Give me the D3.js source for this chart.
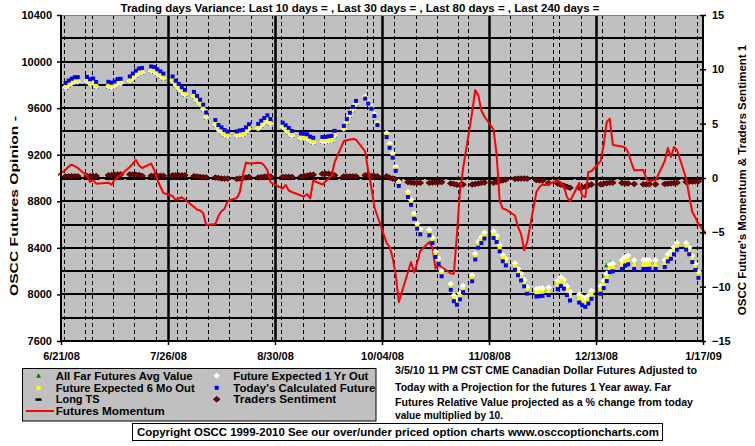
<!DOCTYPE html>
<html><head><meta charset="utf-8">
<script src="https://cdn.jsdelivr.net/npm/d3@7"></script>
<style>
body{margin:0;background:#fff}
svg{display:block}
text{font-family:"Liberation Sans",Arial,sans-serif;font-weight:bold;fill:#000}
</style>
</head><body>
<svg id="chart" width="755" height="446"></svg>
<script>
// ---------- DATA ----------
const weekStarts = ["2008-06-23","2008-06-30","2008-07-07","2008-07-14","2008-07-21","2008-07-28",
"2008-08-04","2008-08-11","2008-08-18","2008-08-25","2008-09-01","2008-09-08","2008-09-15","2008-09-22",
"2008-09-29","2008-10-06","2008-10-13","2008-10-20","2008-10-27","2008-11-03","2008-11-10","2008-11-17",
"2008-11-24","2008-12-01","2008-12-08","2008-12-15","2008-12-22","2008-12-29","2009-01-05","2009-01-12"];

// Today's Calculated Future (left axis), Mon..Fri per week
const todaysFuture = [
[9816,9836,9853,9865,9866],[9868,9848,9855,9825,null],[9826,9818,9829,9850,9852],[9872,9897,9922,9940,9945],
[9958,9953,9934,9916,9896],[9872,9836,9808,9780,9757],[9740,9705,9672,9630,9562],[9498,9455,9435,9412,9398],
[9400,9408,9412,9435,9462],[9465,9492,9515,9538,9506],[null,9475,9453,9430,9404],[9382,9380,9375,9355,9345],
[9352,9352,9358,9362,9405],[9447,9505,9560,9610,9662],[9682,9640,9596,9533,9455],[9352,9260,9175,9062,8932],
[8837,8770,8650,8565,8517],[8508,8442,8322,8264,8156],[8040,7942,7912,7958,8020],[8113,8300,8402,8442,8480],
[8485,8450,8370,8285,8250],[8212,8165,8121,8070,8007],[7982,7985,7988,null,7995],[8045,8072,8050,7995,7948],
[7930,7907,7893,7922,7962],[8006,8055,8115,8192,8198],[8218,8246,8258,null,8218],[8218,8218,8220,null,8218],
[8236,8284,8306,8345,8384],[8385,8345,8278,8210,8143]];

// Future Expected 6 Mo Out
const sixMonth = [
[9791,9811,9828,9840,9841],[9843,9823,9830,9800,null],[9801,9793,9804,9825,9827],[9847,9872,9897,9915,9920],
[9933,9928,9909,9891,9871],[9847,9811,9783,9755,9732],[9715,9680,9647,9605,9537],[9473,9430,9410,9387,9373],
[9375,9383,9387,9410,9437],[9440,9467,9490,9513,9481],[null,9450,9428,9405,9379],[9357,9355,9350,9330,9320],
[9327,9327,9333,9337,9380],[9432,9490,9545,9595,9647],[9687,9645,9601,9538,9460],[9367,9275,9190,9077,8947],
[8857,8790,8670,8585,8537],[8530,8464,8344,8286,8178],[8065,7967,7937,7983,8045],[8138,8325,8427,8467,8505],
[8515,8480,8400,8315,8280],[8242,8195,8151,8100,8037],[8017,8020,8023,null,8030],[8090,8117,8095,8040,7993],
[7970,7947,7933,7962,8002],[8041,8090,8150,8227,8233],[8258,8286,8298,null,8258],[8258,8258,8260,null,8258],
[8268,8316,8338,8377,8416],[8413,8373,8306,8238,8171]];

// Future Expected 1 Yr Out
const oneYear = [
[9778,9798,9815,9827,9828],[9830,9810,9817,9787,null],[9788,9780,9791,9812,9814],[9834,9859,9884,9902,9907],
[9920,9915,9896,9878,9858],[9834,9798,9770,9742,9719],[9702,9667,9634,9592,9524],[9460,9417,9397,9374,9360],
[9362,9370,9374,9397,9424],[9427,9454,9477,9500,9468],[null,9437,9415,9392,9366],[9344,9342,9337,9317,9307],
[9314,9314,9320,9324,9367],[9425,9483,9538,9588,9640],[9697,9655,9611,9548,9470],[9387,9295,9210,9097,8967],
[8879,8812,8692,8607,8559],[8553,8487,8367,8309,8201],[8090,7992,7962,8008,8070],[8163,8350,8452,8492,8530],
[8540,8505,8425,8340,8305],[8267,8220,8176,8125,8062],[8047,8050,8053,null,8060],[8120,8147,8125,8070,8023],
[8000,7977,7963,7992,8032],[8071,8120,8180,8257,8263],[8293,8321,8333,null,8293],[8293,8293,8295,null,8293],
[8296,8344,8366,8405,8444],[8440,8400,8333,8265,8198]];

// All Far Futures Avg Value
const farAvg = [
[9774,9794,9811,9823,9824],[9826,9806,9813,9783,null],[9784,9776,9787,9808,9810],[9830,9855,9880,9898,9903],
[9916,9911,9892,9874,9854],[9830,9794,9766,9738,9715],[9698,9663,9630,9588,9520],[9456,9413,9393,9370,9356],
[9358,9366,9370,9393,9420],[9423,9450,9473,9496,9464],[null,9433,9411,9388,9362],[9340,9338,9333,9313,9303],
[9310,9310,9316,9320,9363],[9419,9477,9532,9582,9634],[9690,9648,9604,9541,9463],[9377,9285,9200,9087,8957],
[8867,8800,8680,8595,8547],[8541,8475,8355,8297,8189],[8078,7980,7950,7996,8058],[8151,8338,8440,8480,8518],
[8527,8492,8412,8327,8292],[8254,8207,8163,8112,8049],[8032,8035,8038,null,8045],[8105,8132,8110,8055,8008],
[7985,7962,7948,7977,8017],[8056,8140,8250,8275,8255],[8276,8304,8316,null,8276],[8276,8276,8278,null,8276],
[8282,8330,8352,8391,8430],[8427,8387,8320,8252,8185]];

// Long TS (right axis)
const longTS = [
[0,0,0,0,0],[0,0,0,0,null],[0,0,0,0,0],[0,0,0,0,0],[0,0,0,0,0],[0,0,0,0,0],[0,0,0,0,0],[0,0,0,0,0],
[0,0,0,0,0],[0,0,0,0,0],[null,0,0,0,0],[0,0,0,0,0],[0,0,0,0,0],[0,0,0,0,0],[0,0,0,0,0],[0,0,0,0,0],
[0,0,0,0,0],[0,0,0,0,0],[0,0,0,0,0],[0,0,0,0,0],[0,0,0,0,0],[0,0,0,0,0],[0,0,0,null,0],[0,0,0,0,0],
[0,0,0,0,0],[0,0,0,0,0],[0,0,0,null,0],[0,0,0,null,0],[0,0,0,0,0],[0,0,0,0,0]];

// Traders Sentiment (right axis)
const tradersSentiment = [
[0.15,0.15,0.16,0.16,0.16],[0.18,0.18,0.18,0.18,null],[0.25,0.28,0.3,0.32,0.33],[0.33,0.32,0.3,0.28,0.2],
[0.2,0.2,0.2,0.2,0.2],[0.25,0.25,0.25,0.25,0.25],[0.16,0.14,0.1,0.08,0.06],[0.04,0.0,-0.04,-0.06,-0.06],
[-0.08,-0.05,0,0.05,0.1],[0.05,0.08,0.12,0.15,0.15],[null,0.1,0.1,0.1,0.1],[0.12,0.18,0.22,0.28,0.3],
[0.38,0.4,0.4,0.35,0.25],[0.15,0.15,0.15,0.15,0.15],[0.25,0.22,0.2,0.18,0.16],[0.16,0.03,-0.06,-0.15,-0.3],
[-0.38,-0.42,-0.45,-0.45,-0.45],[-0.45,-0.42,-0.4,-0.38,-0.38],[-0.5,-0.55,-0.62,-0.65,-0.6],[-0.6,-0.55,-0.5,-0.45,-0.42],
[-0.45,-0.35,-0.28,-0.22,-0.15],[-0.08,-0.06,-0.05,-0.05,-0.06],[-0.2,-0.22,-0.25,null,-0.46],[-0.52,-0.6,-0.7,-0.8,-0.9],
[-0.89,-0.85,-0.8,-0.7,-0.6],[-0.58,-0.52,-0.48,-0.45,-0.43],[-0.46,-0.5,-0.5,null,-0.55],[-0.58,-0.58,-0.58,null,-0.58],
[-0.55,-0.52,-0.5,-0.46,-0.43],[-0.37,-0.35,-0.33,-0.31,-0.3]];

// Futures Momentum (right axis)
const momentum = [
[0.74,1.06,1.22,1.1,0.92],[0.18,-0.37,-0.18,-0.52,null],[-0.43,-0.62,-0.18,0.05,0.28],[1.01,1.33,1.66,1.15,0.92],
[1.32,0.74,-0.18,-0.78,-1.38],[-1.66,-2.02,-1.89,-1.77,-1.98],[-2.67,-2.9,-2.99,-3.22,-4.33],[-4.23,-3.5,-3.06,-2.83,-2.12],
[-1.84,-1.29,0.28,1.41,1.33],[1.41,1.38,1.15,0.71,-0.37],[-0.83,-0.97,-0.64,-1.15,-1.29],[-1.61,-1.7,-1.47,-1.89,-0.23],
[-0.6,-0.32,-0.05,0.18,1.47],[3.4,3.48,3.54,3.59,3.54],[2.44,0.64,-0.83,-2.67,-3.5],[-5.98,-6.35,-7.36,-8.93,-11.41],
[-8.65,-7.73,-8.7,-7.82,-6.72],[-5.89,-6.44,-8.33,-8.0,-8.19],[-8.79,-8.81,-5.25,-1.2,0.83],[6.07,8.1,7.64,6.21,5.66],
[4.46,2.12,-2.12,-2.81,-2.9],[-3.45,-4.51,-5.15,-6.63,-5.89],[-1.29,-0.83,-0.6,-0.67,-0.6],[-0.18,-0.46,-0.78,-1.75,-2.14],
[-0.46,-1.66,-1.75,0.55,0.62],[1.56,3.04,5.15,5.46,3.04],[2.9,2.81,2.39,1.47,0.71],[0.74,-0.09,-0.32,-0.21,-0.21],
[1.56,2.76,1.93,2.85,2.58],[-0.05,-1.66,-3.13,-3.63,-4.23]];
const momentumEdges = [["2008-06-20",0.18],["2009-01-19",-5.3]];

const leftTicks = [7600,8000,8400,8800,9200,9600,10000,10400];
const leftGrid = [7800,8000,8200,8400,8600,8800,9000,9200,9400,9600,9800,10000,10200];
const rightTicks = [-15,-10,-5,0,5,10,15];
const dateTicks = ["2008-06-21","2008-07-26","2008-08-30","2008-10-04","2008-11-08","2008-12-13","2009-01-17"];

const titleText = "Trading days Variance:  Last 10 days = ,  Last 30 days = ,  Last 80 days = ,  Last 240 days =";
const leftTitle = "OSCC Futures Opinion -";
const rightTitle = "OSCC Future's Momentum & Traders Sentiment 1";
const noteLines = ["3/5/10 11 PM CST CME Canadian Dollar  Futures Adjusted to",
 "Today with a Projection for the futures 1 Year away. Far",
 "Futures Relative Value projected as a  % change from today",
 "value multiplied by 10."];
const copyright = "Copyright OSCC 1999-2010 See our over/under priced option charts www.osccoptioncharts.com";

// ---------- LAYOUT ----------
const P = {l:61, r:703, t:15, b:341};
const parse = d3.timeParse("%Y-%m-%d");
const x = d3.scaleTime().domain([parse(dateTicks[0]), parse(dateTicks[dateTicks.length-1])]).range([P.l, P.r]);
const yL = d3.scaleLinear().domain([7600,10400]).range([P.b, P.t]);
const yR = d3.scaleLinear().domain([-15,15]).range([P.b, P.t]);

const shift = d => d3.timeHour.offset(d, -12);
function flat(arr){
  const out=[];
  arr.forEach((wk,i)=>{ const mon=parse(weekStarts[i]);
    wk.forEach((v,j)=>{ if(v!=null) out.push({date:shift(d3.timeDay.offset(mon,j)), v}); });
  });
  return out;
}

const svg = d3.select("#chart");
svg.append("rect").attr("width",755).attr("height",446).attr("fill","#fff");

// plot background
svg.append("rect").attr("x",P.l).attr("y",P.t).attr("width",P.r-P.l).attr("height",P.b-P.t).attr("fill","#c0c0c0");

// weekly vertical grid (dashed) and major verticals
const weeks = d3.timeDay.every(7).range(parse(dateTicks[0]), parse(dateTicks[dateTicks.length-1]));
const majorSet = new Set(dateTicks.map(s=>+parse(s)));
const vg = svg.append("g").attr("transform",`translate(0,${P.t})`)
  .call(d3.axisBottom(x).tickValues(weeks.filter(d=>!majorSet.has(+d))).tickSize(P.b-P.t).tickFormat(""));
vg.select(".domain").remove();
vg.selectAll(".tick line").attr("stroke","#000").attr("stroke-width",1).attr("stroke-dasharray","4,3").attr("shape-rendering","crispEdges");

// horizontal grid every 200 (solid, drawn as 1px-high bars)
const hg = svg.append("g").attr("class","hgrid");
hg.selectAll("rect").data(leftGrid).join("rect")
  .attr("x",P.l).attr("width",P.r-P.l)
  .attr("y",d=>Math.round(yL(d))-1).attr("height",2)
  .attr("fill","#000");

const mg = svg.append("g").attr("transform",`translate(0,${P.t})`)
  .call(d3.axisBottom(x).tickValues(dateTicks.slice(1,-1).map(parse)).tickSize(P.b-P.t).tickFormat(""));
mg.select(".domain").remove();
mg.selectAll(".tick line").attr("stroke","#000").attr("stroke-width",2.5);

// top border
svg.append("line").attr("x1",P.l).attr("x2",P.r).attr("y1",P.t+0.5).attr("y2",P.t+0.5).attr("stroke","#808080");

// clip
svg.append("clipPath").attr("id","clip").append("rect").attr("x",58).attr("y",P.t).attr("width",706-58).attr("height",P.b-P.t);
const plot = svg.append("g").attr("clip-path","url(#clip)");

// Long TS dashes
plot.append("g").selectAll("rect").data(flat(longTS)).join("rect")
  .attr("x",d=>x(d.date)-3.5).attr("y",d=>yR(d.v)-0.5).attr("width",7).attr("height",2.5).attr("fill","#000");

// Traders sentiment diamonds
const diaT = "M0,-2.7L3.3,0L0,2.7L-3.3,0Z";
plot.append("g").selectAll("path").data(flat(tradersSentiment)).join("path")
  .attr("transform",d=>`translate(${x(d.date)},${yR(d.v)})`)
  .attr("d",diaT).attr("fill","#800000").attr("stroke","#300000").attr("stroke-width",0.9);

// Futures momentum line
const momPts = [{date:shift(parse(momentumEdges[0][0])), v:momentumEdges[0][1]}]
  .concat(flat(momentum), [{date:shift(parse(momentumEdges[1][0])), v:momentumEdges[1][1]}]);
plot.append("path").datum(momPts)
  .attr("d", d3.line().x(d=>x(d.date)).y(d=>yR(d.v)))
  .attr("fill","none").attr("stroke","#ff0000").attr("stroke-width",2).attr("stroke-linejoin","round");

// Far futures avg (green triangles)
plot.append("g").selectAll("path").data(flat(farAvg)).join("path")
  .attr("transform",d=>`translate(${x(d.date)},${yL(d.v)})`)
  .attr("d","M0,-2.5L2.5,2L-2.5,2Z").attr("fill","#008000");
// 1 Yr out (white diamonds)
plot.append("g").selectAll("path").data(flat(oneYear)).join("path")
  .attr("transform",d=>`translate(${x(d.date)},${yL(d.v)})`)
  .attr("d","M0,-3.2L3.2,0L0,3.2L-3.2,0Z").attr("fill","#fff");
// 6 Mo out (yellow squares)
plot.append("g").selectAll("rect").data(flat(sixMonth)).join("rect")
  .attr("x",d=>x(d.date)-2).attr("y",d=>yL(d.v)-2).attr("width",4).attr("height",4).attr("fill","#ffff00");
// Today's calculated (blue squares)
plot.append("g").selectAll("rect").data(flat(todaysFuture)).join("rect")
  .attr("x",d=>x(d.date)-2).attr("y",d=>yL(d.v)-2).attr("width",4).attr("height",4).attr("fill","#0000ff");

// ---------- AXES ----------
const fs = "11px";
const axL = svg.append("g").attr("transform",`translate(${P.l},0)`)
  .call(d3.axisLeft(yL).tickValues(leftTicks).tickSize(4).tickPadding(5).tickFormat(d3.format("d")));
const axR = svg.append("g").attr("transform",`translate(${P.r},0)`)
  .call(d3.axisRight(yR).tickValues(rightTicks).tickSize(3).tickPadding(6).tickFormat(d3.format("d")));
axR.selectAll(".tick line").attr("x1",-3);
const axB = svg.append("g").attr("transform",`translate(0,${P.b})`)
  .call(d3.axisBottom(x).tickValues(dateTicks.map(parse)).tickSize(4).tickPadding(7).tickFormat(d3.timeFormat("%-m/%d/%y")));
[axL,axR,axB].forEach(a=>{
  a.selectAll(".domain").attr("stroke","#000").attr("stroke-width",2);
  a.selectAll(".tick line").attr("stroke","#000").attr("stroke-width",1.5);
  a.selectAll("text").attr("font-family",'"Liberation Sans",Arial,sans-serif').attr("font-weight","bold").attr("font-size",fs).attr("fill","#000");
});
axL.select(".domain").attr("d",`M0,${P.t}V${P.b}`);
axR.select(".domain").attr("d",`M0,${P.t}V${P.b}`);
axB.select(".domain").attr("d",`M${P.l},0H${P.r}`);

// titles
svg.append("text").attr("x",360).attr("y",11.5).attr("text-anchor","middle").attr("font-size","11.5px")
  .attr("textLength",479).attr("lengthAdjust","spacingAndGlyphs").text(titleText);
svg.append("text").attr("transform","translate(18,206) rotate(-90)").attr("text-anchor","middle").attr("font-size","11.5px")
  .attr("textLength",180).attr("lengthAdjust","spacingAndGlyphs").text(leftTitle);
svg.append("text").attr("transform","translate(746,180) rotate(-90)").attr("text-anchor","middle").attr("font-size","11.5px").text(rightTitle);

// ---------- LEGEND ----------
svg.append("rect").attr("x",22.5).attr("y",368.5).attr("width",353.5).attr("height",52.5).attr("fill","#c0c0c0").attr("stroke","#000");
const legItems = [
 {label:"All Far Futures Avg Value", col:0, row:0, sym:"tri", w:137},
 {label:"Future Expected 6 Mo Out", col:0, row:1, sym:"ysq", w:139},
 {label:"Long TS", col:0, row:2, sym:"dash", w:44},
 {label:"Futures Momentum", col:0, row:3, sym:"line", w:109},
 {label:"Future Expected 1 Yr Out", col:1, row:0, sym:"wdia", w:135},
 {label:"Today's Calculated Future", col:1, row:1, sym:"bsq", w:142},
 {label:"Traders Sentiment", col:1, row:2, sym:"rdia", w:103}];
const rowY = [375.7, 387.8, 399.3, 411];
const colX = [38.5, 216.7], textX = [55.7, 233.3];
const lg = svg.append("g");
legItems.forEach(it=>{
  const cx = colX[it.col], cy = rowY[it.row];
  if(it.sym==="tri") lg.append("path").attr("d",`M${cx},${cy-2.5}L${cx+2.5},${cy+2}L${cx-2.5},${cy+2}Z`).attr("fill","#008000");
  if(it.sym==="ysq") lg.append("rect").attr("x",cx-2).attr("y",cy-2).attr("width",4).attr("height",4).attr("fill","#ffff00");
  if(it.sym==="bsq") lg.append("rect").attr("x",cx-2).attr("y",cy-2).attr("width",4).attr("height",4).attr("fill","#0000ff");
  if(it.sym==="dash") lg.append("rect").attr("x",cx-3).attr("y",cy-1).attr("width",6).attr("height",2.5).attr("fill","#000");
  if(it.sym==="wdia") lg.append("path").attr("d",`M${cx},${cy-3}L${cx+3},${cy}L${cx},${cy+3}L${cx-3},${cy}Z`).attr("fill","#fff");
  if(it.sym==="rdia") lg.append("path").attr("transform",`translate(${cx},${cy})`).attr("d",diaT).attr("fill","#800000").attr("stroke","#300000").attr("stroke-width",0.9);
  if(it.sym==="line") lg.append("line").attr("x1",26).attr("x2",54).attr("y1",cy).attr("y2",cy).attr("stroke","#ff0000").attr("stroke-width",2);
  lg.append("text").attr("x",textX[it.col]).attr("y",cy+4).attr("font-size","11.5px")
    .attr("textLength",it.w).attr("lengthAdjust","spacingAndGlyphs").text(it.label);
});

// note text
const noteW = [302,276,298,108];
const noteY = [374,390.5,405.5,418.5];
noteLines.forEach((t,i)=>{
  svg.append("text").attr("x",395).attr("y",noteY[i]).attr("font-size","11.5px")
    .attr("textLength",noteW[i]).attr("lengthAdjust","spacingAndGlyphs").text(t);
});

// copyright box
svg.append("rect").attr("x",132.5).attr("y",423.5).attr("width",530).attr("height",17).attr("fill","#fff").attr("stroke","#000");
svg.append("text").attr("x",137).attr("y",436).attr("font-size","11.5px")
  .attr("textLength",522).attr("lengthAdjust","spacingAndGlyphs").text(copyright);
</script>
</body></html>
